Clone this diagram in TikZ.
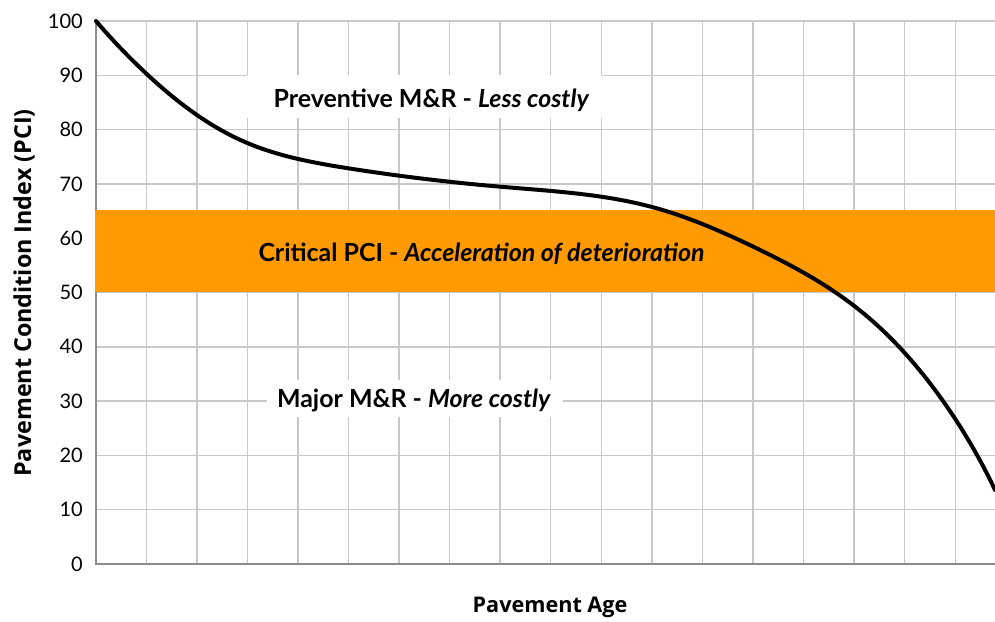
\documentclass[tikz,border=0pt]{standalone}
\usepackage{fontspec}
\setmainfont{Lato}
\newfontfamily\titlefont{Open Sans}
\usetikzlibrary{hobby}
\definecolor{bandorange}{HTML}{FF9A00}
\definecolor{gridgray}{HTML}{C8C8C8}
\definecolor{axisgray}{HTML}{8C8C8C}
\begin{document}
\begin{tikzpicture}[x=0.75pt,y=-0.75pt,
  gridline/.style={draw=gridgray,line width=1.1pt},
  axisline/.style={draw=axisgray,line width=1.2pt},
  ticklbl/.style={anchor=east,inner sep=0pt,font=\fontsize{15}{18}\selectfont},
  zonelbl/.style={inner sep=0pt,font=\bfseries\fontsize{18.7}{22}\selectfont},
  axtitle/.style={inner sep=0pt,font=\titlefont\bfseries\fontsize{17.5}{21}\selectfont},
  curve/.style={line width=3pt,line cap=round,line join=round}]
\useasboundingbox (0,0) rectangle (995,621);
% grid
\foreach \k in {1,...,17} {
  \draw[gridline] ({95.7+50.56*\k},21) -- ({95.7+50.56*\k},564);
}
\foreach \v in {1,...,10} {
  \draw[gridline] (96,{564-54.3*\v}) -- (995,{564-54.3*\v});
}
% axes
\draw[axisline] (96,21) -- (96,564) -- (995,564);
% band
\fill[bandorange] (95.2,210) rectangle (995,291.5);
% white label boxes
\fill[white] (247,75) rectangle (602,118);
\fill[white] (267,380) rectangle (563,417);
% tick labels
\foreach \v in {0,...,10} {
  \node[ticklbl] (t\v) at (83,{564-54.3*\v}) {\the\numexpr\v*10\relax};
}
% curve
\draw[curve,use Hobby shortcut] (96,21) .. (146.7,74) .. (247.3,143)
 .. (348.3,168.3) .. (500.3,186.7) .. (652,207) .. (753.3,246.7)
 .. (854.3,306) .. (943,401) .. (995,490);
% labels
\node[zonelbl] (prev) at (431.5,100) {Preventive M\&R - \textit{Less costly}};
\node[zonelbl] (crit) at (481.5,254) {Critical PCI - \textit{Acceleration of deterioration}};
\node[zonelbl] (major) at (414,400) {Major M\&R - \textit{More costly}};
\node[axtitle,font=\titlefont\bfseries\fontsize{16.2}{20}\selectfont] (xt) at (550,607) {Pavement Age};
\node[axtitle,rotate=90] (yt) at (24,293) {Pavement Condition Index (PCI)};
\end{tikzpicture}
\end{document}
